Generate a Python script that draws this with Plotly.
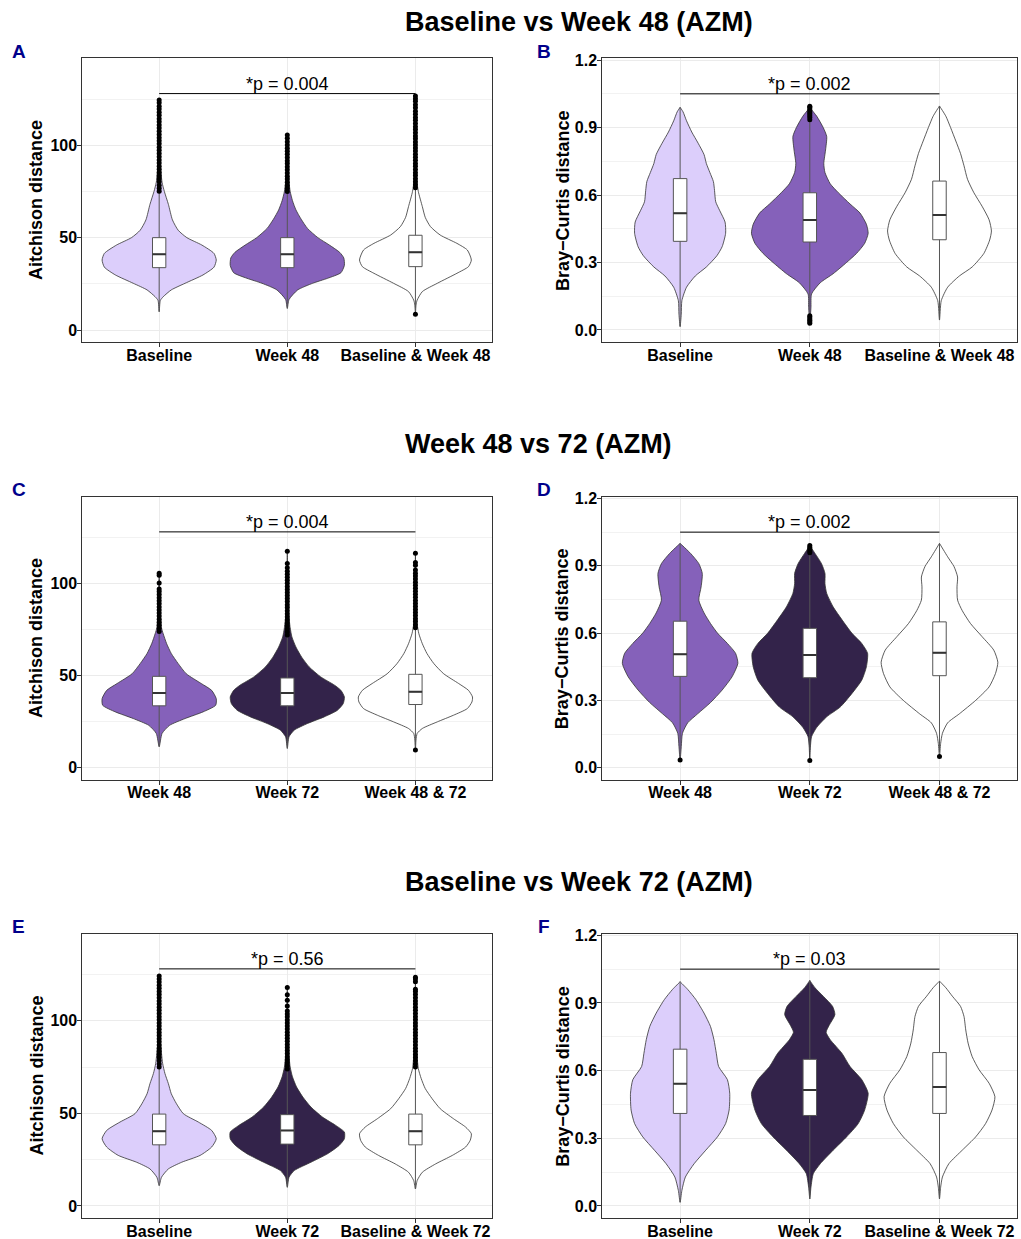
import plotly.graph_objects as go

# ---------------- group labels ----------------
labels_bl_w48 = ["Baseline", "Week 48", "Baseline & Week 48"]
labels_w48_w72 = ["Week 48", "Week 72", "Week 48 & 72"]
labels_bl_w72 = ["Baseline", "Week 72", "Baseline & Week 72"]

row_titles = ["Baseline vs Week 48 (AZM)", "Week 48 vs 72 (AZM)", "Baseline vs Week 72 (AZM)"]
panel_tags = ["A", "B", "C", "D", "E", "F"]
p_labels = ["*p = 0.004", "*p = 0.002", "*p = 0.004", "*p = 0.002", "*p = 0.56", "*p = 0.03"]

# ---------------- violin density profiles (value, relative density) ----------------
# Panel A: Aitchison, Baseline vs Week 48
a_base_y = [9.9, 16, 18, 21.7, 25.3, 29.8, 34, 37.9, 41.5, 46, 50, 54, 59.6, 68, 75, 80, 90, 105, 124.5]
a_base_d = [0, .02, .07, .21, .45, .76, .95, .99, .95, .74, .48, .33, .23, .16, .09, .05, .02, .01, 0]
a_w48_y = [11.7, 16.5, 21.7, 25.3, 28, 31, 35, 39, 42, 46, 50, 55, 60, 65, 70, 75, 80, 90, 105.6]
a_w48_d = [0, .03, .18, .44, .70, .93, .99, .98, .91, .73, .53, .35, .24, .15, .09, .05, .03, .01, 0]
a_both_y = [8.5, 13.5, 16.2, 20.8, 25.3, 30.7, 34.3, 37.9, 43.3, 46.9, 51.4, 56, 61, 66.8, 75, 82, 95, 126.7]
a_both_d = [0, .01, .03, .12, .38, .72, .92, .97, .90, .72, .43, .26, .17, .12, .05, .02, .01, 0]

# Panel B: Bray-Curtis, Baseline vs Week 48
b_base_y = [0.015, 0.07, 0.13, 0.19, 0.24, 0.28, 0.33, 0.37, 0.43, 0.48, 0.53, 0.57, 0.62, 0.66, 0.70, 0.74, 0.78, 0.83, 0.88, 0.93, 0.97, 0.99]
b_base_d = [0, .02, .03, .11, .26, .45, .63, .72, .78, .77, .68, .61, .59, .57, .51, .45, .41, .31, .20, .11, .05, 0]
b_w48_y = [0.037, 0.1, 0.16, 0.21, 0.25, 0.30, 0.34, 0.385, 0.43, 0.47, 0.52, 0.56, 0.61, 0.65, 0.70, 0.74, 0.80, 0.86, 0.90, 0.95, 0.98, 0.995]
b_w48_d = [0, .02, .03, .18, .40, .63, .80, .94, 1.0, .97, .86, .69, .49, .35, .26, .24, .27, .29, .23, .12, .03, 0]
b_both_y = [0.044, 0.13, 0.19, 0.24, 0.28, 0.34, 0.40, 0.44, 0.49, 0.55, 0.61, 0.67, 0.73, 0.785, 0.84, 0.90, 0.95, 0.996]
b_both_d = [0, .03, .14, .34, .56, .76, .86, .89, .85, .73, .59, .48, .42, .36, .28, .19, .11, 0]

# Panel C: Aitchison, Week 48 vs 72
c_w48_y = [11.4, 18.6, 23, 26.7, 30.3, 33.9, 37.5, 42, 45.7, 51, 56.5, 62, 67.3, 72.7, 76, 85, 95, 105.6]
c_w48_d = [0, .05, .18, .45, .76, .98, .99, .91, .73, .47, .33, .21, .13, .07, .04, .02, .01, 0]
c_w72_y = [10.5, 16.8, 20.4, 24, 27.6, 31.2, 34.8, 38.4, 42, 44.8, 49.3, 54.7, 60, 65.5, 71, 76, 85, 100, 117.5]
c_w72_d = [0, .03, .12, .35, .64, .87, .97, .99, .93, .82, .58, .38, .25, .15, .08, .05, .02, .01, 0]
c_both_y = [9.6, 15, 18.6, 21.3, 24.9, 28.5, 32.1, 35.7, 38.4, 42, 45.7, 51, 56.5, 62, 67.3, 72.7, 78, 90, 116.4]
c_both_d = [0, .01, .03, .12, .38, .66, .90, .98, .99, .92, .75, .49, .32, .20, .12, .06, .03, .01, 0]

# Panel D: Bray-Curtis, Week 48 vs 72
d_w48_y = [0.034, 0.094, 0.153, 0.2, 0.24, 0.29, 0.346, 0.405, 0.465, 0.51, 0.554, 0.6, 0.643, 0.69, 0.747, 0.806, 0.866, 0.91, 0.955, 1.0]
d_w48_d = [0, .02, .04, .13, .30, .52, .72, .89, .99, .95, .81, .64, .52, .41, .32, .36, .38, .32, .18, 0]
d_w72_y = [0.032, 0.09, 0.138, 0.18, 0.227, 0.27, 0.33, 0.39, 0.45, 0.51, 0.554, 0.6, 0.66, 0.717, 0.777, 0.82, 0.866, 0.91, 0.955, 0.99]
d_w72_d = [0, .01, .03, .12, .29, .52, .72, .89, .97, .99, .89, .72, .55, .40, .29, .26, .26, .20, .09, 0]
d_both_y = [0.05, 0.108, 0.153, 0.2, 0.24, 0.30, 0.36, 0.42, 0.47, 0.524, 0.584, 0.643, 0.70, 0.747, 0.806, 0.85, 0.896, 0.94, 1.0]
d_both_d = [0, .02, .05, .14, .34, .62, .85, .96, 1.0, .93, .73, .53, .39, .31, .30, .31, .25, .14, 0]

# Panel E: Aitchison, Baseline vs Week 72
e_base_y = [11, 15.5, 20, 23.6, 27.3, 31.8, 36.3, 40.8, 45.3, 49.8, 55.2, 60.6, 66, 71.5, 77, 90, 105, 124.2]
e_base_d = [0, .04, .16, .39, .71, .91, .99, .91, .68, .42, .30, .21, .16, .10, .06, .02, .01, 0]
e_w72_y = [10.1, 15.5, 19.1, 23.6, 28.2, 32.7, 36.3, 39.9, 43.5, 48, 53.4, 58.8, 64.3, 69.7, 75, 85, 100, 117.9]
e_w72_d = [0, .03, .12, .41, .70, .90, .99, .99, .84, .61, .41, .27, .16, .09, .05, .02, .01, 0]
e_both_y = [9.2, 13.7, 18.2, 22.7, 27.3, 31.8, 35.4, 39, 42.6, 47.1, 52.5, 57.9, 63.4, 68.8, 74.2, 85, 100, 123.5]
e_both_d = [0, .03, .12, .35, .64, .87, .95, .97, .87, .66, .43, .29, .17, .10, .05, .02, .01, 0]

# Panel F: Bray-Curtis, Baseline vs Week 72
f_base_y = [0.016, 0.068, 0.128, 0.187, 0.247, 0.306, 0.365, 0.425, 0.5, 0.56, 0.618, 0.677, 0.737, 0.796, 0.855, 0.915, 0.96, 0.994]
f_base_d = [0, .03, .09, .24, .44, .64, .78, .84, .85, .81, .66, .62, .58, .52, .41, .27, .13, 0]
f_w72_y = [0.031, 0.083, 0.143, 0.187, 0.247, 0.306, 0.365, 0.425, 0.5, 0.56, 0.618, 0.677, 0.737, 0.77, 0.80, 0.848, 0.885, 0.93, 0.967, 1.0]
f_w72_d = [0, .02, .06, .18, .40, .63, .83, .94, 1.0, .89, .69, .55, .35, .28, .33, .43, .39, .23, .09, 0]
f_both_y = [0.031, 0.083, 0.128, 0.187, 0.247, 0.306, 0.365, 0.425, 0.484, 0.544, 0.603, 0.662, 0.722, 0.78, 0.84, 0.885, 0.93, 0.967, 0.997]
f_both_d = [0, .02, .05, .16, .39, .62, .79, .90, .95, .85, .68, .56, .49, .45, .42, .36, .22, .11, 0]

# ---------------- box statistics per group ----------------
a_q1 = [33.75, 33.75, 34.3]; a_med = [41.0, 41.0, 42.1]; a_q3 = [50.0, 50.0, 51.3]
a_lo = [9.9, 11.7, 11.5]; a_hi = [74.4, 74.4, 76.8]
b_q1 = [0.394, 0.391, 0.401]; b_med = [0.519, 0.489, 0.511]; b_q3 = [0.673, 0.610, 0.662]
b_lo = [0.015, 0.068, 0.044]; b_hi = [0.99, 0.93, 0.996]
c_q1 = [33.6, 33.6, 34.3]; c_med = [40.6, 40.6, 41.2]; c_q3 = [49.6, 48.7, 50.7]
c_lo = [11.4, 10.5, 12.0]; c_hi = [73.5, 71.4, 75.3]
d_q1 = [0.407, 0.401, 0.41]; d_med = [0.506, 0.502, 0.512]; d_q3 = [0.653, 0.621, 0.65]
d_lo = [0.045, 0.08, 0.07]; d_hi = [1.0, 0.951, 1.0]
e_q1 = [33.0, 33.4, 33.0]; e_med = [40.4, 40.8, 40.4]; e_q3 = [49.6, 49.3, 49.6]
e_lo = [11.0, 10.1, 9.2]; e_hi = [74.5, 73.2, 74.5]
f_q1 = [0.41, 0.401, 0.41]; f_med = [0.542, 0.514, 0.527]; f_q3 = [0.695, 0.65, 0.68]
f_lo = [0.016, 0.031, 0.031]; f_hi = [0.994, 1.0, 0.997]

# ---------------- outliers per group ----------------
a_base_out = [75.1, 76.8, 78.4, 80.2, 81.9, 83.5, 85.3, 87.0, 88.6, 90.4, 92.1, 93.8, 95.5, 97.3, 99.0, 100.8,
              102.5, 104.1, 105.9, 107.6, 109.3, 111.0, 112.8, 114.4, 116.2, 117.9, 119.6, 121.2, 123.0, 124.5]
a_w48_out = [75.0, 76.6, 78.3, 80.0, 81.7, 83.3, 85.0, 86.8, 88.4, 90.1, 91.7, 93.4, 95.1, 96.8, 98.4, 100.2,
             101.9, 103.8, 105.6]
a_both_out = [77.0, 78.6, 80.3, 81.9, 83.6, 85.2, 86.9, 88.6, 90.2, 91.9, 93.5, 95.2, 96.9, 98.5, 100.2, 101.8,
              103.5, 105.1, 106.8, 108.5, 110.1, 111.8, 113.5, 115.1, 116.8, 118.5, 120.3, 122.0, 123.8, 125.2,
              126.7, 8.5]
b_base_out = []
b_w48_out = [0.935, 0.945, 0.952, 0.96, 0.967, 0.975, 0.982, 0.99, 0.995, 0.030, 0.036, 0.043, 0.050, 0.057, 0.063]
b_both_out = []
c_w48_out = [74.0, 75.6, 77.3, 79.0, 80.6, 82.3, 84.0, 85.6, 87.3, 89.0, 90.6, 92.3, 94.0, 95.6, 97.0, 100.3,
             104.4, 105.6]
c_w72_out = [72.0, 73.7, 75.3, 77.0, 78.6, 80.3, 81.9, 83.6, 85.2, 86.9, 88.5, 90.2, 91.8, 93.5, 95.1, 96.8,
             98.4, 100.1, 101.7, 103.4, 105.0, 106.7, 108.5, 110.9, 117.5]
c_both_out = [76.0, 77.6, 79.3, 80.9, 82.6, 84.2, 85.9, 87.5, 89.2, 90.8, 92.5, 94.1, 95.8, 97.4, 99.1, 100.7,
              102.4, 104.0, 105.5, 107.3, 109.9, 111.4, 116.4, 9.6]
d_w48_out = [0.034]
d_w72_out = [0.032, 0.958, 0.966, 0.975, 0.983, 0.99]
d_both_out = [0.05]
e_base_out = [75.0, 76.7, 78.4, 80.1, 81.8, 83.5, 85.2, 86.9, 88.6, 90.3, 92.0, 93.7, 95.4, 97.1, 98.8, 100.5,
              102.2, 103.9, 105.6, 107.3, 109.0, 110.7, 112.4, 114.1, 115.8, 117.5, 119.2, 120.9, 122.6, 124.2]
e_w72_out = [74.0, 75.7, 77.3, 79.0, 80.6, 82.3, 83.9, 85.6, 87.2, 88.9, 90.5, 92.2, 93.8, 95.5, 97.1, 98.8,
             100.4, 102.1, 103.7, 105.2, 108.0, 111.0, 114.0, 117.9]
e_both_out = [75.0, 76.7, 78.4, 80.1, 81.8, 83.5, 85.2, 86.9, 88.6, 90.3, 92.0, 93.7, 95.4, 97.1, 98.8, 100.5,
              102.2, 103.9, 105.6, 107.3, 109.0, 110.7, 112.4, 114.1, 115.8, 117.0, 121.0, 122.5, 123.5]
f_base_out = []
f_w72_out = []
f_both_out = []

# significance bracket heights
bracket_aitchison = 128.0
bracket_bray = 1.05

# ---------------- styling ----------------
FILL_BASE = "#DCCEFB"
FILL_W48 = "#8561BA"
FILL_W72 = "#33234A"
FILL_BOTH = "#FFFFFF"
OUTLINE = "#333333"
GRID = "#EBEBEB"
FONT = "Liberation Sans, Arial, sans-serif"

W, H = 1021, 1239
COLS = [(82.3, 492.3), (602.3, 1017.3)]
ROWS = [(58.3, 342.3), (496.7, 780.0), (933.5, 1218.3)]
AIT_RANGE = [-6.66, 147.1]
BC_RANGE = [-0.055, 1.208]
HALF_MAX = 0.45
BOX_W = 0.104

panels = [
    dict(labels=labels_bl_w48, metric="ait", fills=[FILL_BASE, FILL_W48, FILL_BOTH],
         prof=[(a_base_y, a_base_d), (a_w48_y, a_w48_d), (a_both_y, a_both_d)],
         box=(a_q1, a_med, a_q3, a_lo, a_hi), out=[a_base_out, a_w48_out, a_both_out]),
    dict(labels=labels_bl_w48, metric="bc", fills=[FILL_BASE, FILL_W48, FILL_BOTH],
         prof=[(b_base_y, b_base_d), (b_w48_y, b_w48_d), (b_both_y, b_both_d)],
         box=(b_q1, b_med, b_q3, b_lo, b_hi), out=[b_base_out, b_w48_out, b_both_out]),
    dict(labels=labels_w48_w72, metric="ait", fills=[FILL_W48, FILL_W72, FILL_BOTH],
         prof=[(c_w48_y, c_w48_d), (c_w72_y, c_w72_d), (c_both_y, c_both_d)],
         box=(c_q1, c_med, c_q3, c_lo, c_hi), out=[c_w48_out, c_w72_out, c_both_out]),
    dict(labels=labels_w48_w72, metric="bc", fills=[FILL_W48, FILL_W72, FILL_BOTH],
         prof=[(d_w48_y, d_w48_d), (d_w72_y, d_w72_d), (d_both_y, d_both_d)],
         box=(d_q1, d_med, d_q3, d_lo, d_hi), out=[d_w48_out, d_w72_out, d_both_out]),
    dict(labels=labels_bl_w72, metric="ait", fills=[FILL_BASE, FILL_W72, FILL_BOTH],
         prof=[(e_base_y, e_base_d), (e_w72_y, e_w72_d), (e_both_y, e_both_d)],
         box=(e_q1, e_med, e_q3, e_lo, e_hi), out=[e_base_out, e_w72_out, e_both_out]),
    dict(labels=labels_bl_w72, metric="bc", fills=[FILL_BASE, FILL_W72, FILL_BOTH],
         prof=[(f_base_y, f_base_d), (f_w72_y, f_w72_d), (f_both_y, f_both_d)],
         box=(f_q1, f_med, f_q3, f_lo, f_hi), out=[f_base_out, f_w72_out, f_both_out]),
]

fig = go.Figure()
layout = {}
annotations = []

for i, pan in enumerate(panels):
    row, col = divmod(i, 2)
    sfx = "" if i == 0 else str(i + 1)
    xa, ya, yo = f"x{sfx}", f"y{sfx}", f"y{i + 7}"
    x0, x1 = COLS[col]
    y0, y1 = ROWS[row]
    ait = pan["metric"] == "ait"
    yrange = AIT_RANGE if ait else BC_RANGE

    layout[f"xaxis{sfx}"] = dict(
        domain=[x0 / W, x1 / W], anchor=ya, range=[0.4, 3.6], automargin=False,
        tickmode="array", tickvals=[1, 2, 3], ticktext=pan["labels"],
        tickfont=dict(family=FONT, size=16, color="black", weight="bold"),
        ticks="outside", ticklen=4, tickcolor=OUTLINE, tickwidth=1, ticklabelstandoff=-6,
        showgrid=True, gridcolor=GRID, gridwidth=1, zeroline=False,
        showline=True, linecolor=OUTLINE, linewidth=1, mirror=True,
    )
    layout[f"yaxis{sfx}"] = dict(
        domain=[1 - y1 / H, 1 - y0 / H], anchor=xa, range=yrange, automargin=False,
        tickmode="array",
        tickvals=[0, 50, 100] if ait else [0, 0.3, 0.6, 0.9, 1.2],
        ticktext=["0", "50", "100"] if ait else ["0.0", "0.3", "0.6", "0.9", "1.2"],
        tickfont=dict(family=FONT, size=16, color="black", weight="bold"),
        ticks="outside", ticklen=4, tickcolor=OUTLINE, tickwidth=1, ticklabelstandoff=-3,
        showgrid=True, gridcolor=GRID, gridwidth=1, zeroline=False,
        minor=dict(tickmode="array",
                   tickvals=[25, 75, 125] if ait else [0.15, 0.45, 0.75, 1.05],
                   showgrid=True, gridcolor="#F2F2F2", gridwidth=0.8, ticks=""),
        showline=True, linecolor=OUTLINE, linewidth=1, mirror=True,
    )
    # overlay axis so boxes and points sit above the violin fills
    layout[f"yaxis{i + 7}"] = dict(overlaying=ya, anchor=xa, range=yrange, visible=False,
                                  showgrid=False, zeroline=False, automargin=False)

    # violins
    for k, ((vy, vd), fill) in enumerate(zip(pan["prof"], pan["fills"])):
        cx = k + 1
        right = [cx + HALF_MAX * d for d in vd]
        left = [cx - HALF_MAX * d for d in vd][::-1]
        fig.add_trace(go.Scatter(
            x=right + left, y=list(vy) + list(vy)[::-1], mode="lines",
            fill="toself", fillcolor=fill, line=dict(color=OUTLINE, width=0.8, shape="spline", smoothing=0.6),
            xaxis=xa, yaxis=ya, hoverinfo="skip", showlegend=False,
        ))

    # significance bracket
    by = bracket_aitchison if ait else bracket_bray
    fig.add_trace(go.Scatter(x=[1, 3], y=[by, by], mode="lines", line=dict(color="black", width=1),
                             xaxis=xa, yaxis=ya, hoverinfo="skip", showlegend=False))
    annotations.append(dict(x=2, y=by, xref=xa, yref=ya, text=p_labels[i], showarrow=False,
                            xanchor="center", yanchor="middle", yshift=10,
                            font=dict(family=FONT, size=18, color="black")))

    # boxes
    q1, med, q3, lo, hi = pan["box"]
    fig.add_trace(go.Box(
        x=[1, 2, 3], q1=q1, median=med, q3=q3, lowerfence=lo, upperfence=hi,
        width=BOX_W, whiskerwidth=0, fillcolor="white", line=dict(color="#555555", width=1),
        boxpoints=False, xaxis=xa, yaxis=yo, hoverinfo="skip", showlegend=False,
    ))
    mx, my = [], []
    for k, m in enumerate(med):
        mx += [k + 1 - BOX_W / 2, k + 1 + BOX_W / 2, None]
        my += [m, m, None]
    fig.add_trace(go.Scatter(x=mx, y=my, mode="lines", line=dict(color="#333333", width=2),
                             xaxis=xa, yaxis=yo, hoverinfo="skip", showlegend=False))

    # outliers
    ox, oy = [], []
    for k, pts in enumerate(pan["out"]):
        ox += [k + 1] * len(pts)
        oy += pts
    if oy:
        fig.add_trace(go.Scatter(x=ox, y=oy, mode="markers", marker=dict(color="black", size=5),
                                 xaxis=xa, yaxis=yo, hoverinfo="skip", showlegend=False))

    # panel tag
    tag_x = 18.5 if col == 0 else 543.5
    annotations.append(dict(x=tag_x / W, y=1 - (y0 - 7) / H, xref="paper", yref="paper",
                            text=panel_tags[i], showarrow=False, xanchor="center", yanchor="middle",
                            font=dict(family=FONT, size=19, color="#00008B", weight="bold")))
    # axis title
    t_x = 36.7 if col == 0 else 562.8
    annotations.append(dict(x=t_x / W, y=1 - (y0 + y1) / 2 / H, xref="paper", yref="paper",
                            text="Aitchison distance" if ait else "Bray\u2212Curtis distance",
                            textangle=-90, showarrow=False, xanchor="center", yanchor="middle",
                            font=dict(family=FONT, size=18, color="black", weight="bold")))

# row titles
for r, (title, cy) in enumerate(zip(row_titles, [22, 444, 882])):
    annotations.append(dict(x=403 / W, y=1 - cy / H, xref="paper", yref="paper", text=title,
                            showarrow=False, xanchor="left", yanchor="middle",
                            font=dict(family=FONT, size=27, color="black", weight="bold")))

fig.update_layout(
    width=W, height=H, margin=dict(l=0, r=0, t=0, b=0, pad=0, autoexpand=False),
    paper_bgcolor="white", plot_bgcolor="white", showlegend=False,
    boxmode="overlay", annotations=annotations, **layout,
)

fig.write_html("out.html")
